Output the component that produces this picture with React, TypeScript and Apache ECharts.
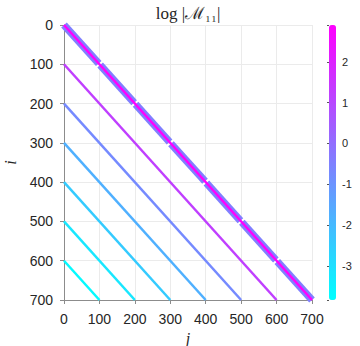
import React, { useEffect, useRef } from "react";
import * as echarts from "echarts";

// Diagonal offsets (i - j) and the value of log|M11| along each diagonal
const diagOffsets = [0, 100, 200, 300, 400, 500, 600];
const diagValues = [2.9, 1.25, -0.75, -1.75, -2.45, -3.2, -3.7];
// Near-diagonal band (blocks of 100) around the main diagonal
const blockStarts = [0, 102, 202, 302, 402, 502, 602];
const blockEnds = [98, 198, 298, 398, 498, 598, 700];
const bandValue = -0.45;
// Axis ticks
const axisMax = 700;
const tickStep = 100;
const cbMin = -3.83;
const cbMax = 2.9;

export default function App() {
  const ref = useRef<HTMLDivElement>(null);
  useEffect(() => {
    if (!ref.current) return;
    const chart = echarts.init(ref.current, undefined, { renderer: "svg" });

    const diagData = diagOffsets.map((k, idx) => [0, k, axisMax - k, axisMax, diagValues[idx]]);
    const bandData = blockStarts.map((s, idx) => [s, s, blockEnds[idx], blockEnds[idx], bandValue]);

    const makeRender = (width: number) => (params: any, api: any) => {
      const p1 = api.coord([api.value(0), api.value(1)]);
      const p2 = api.coord([api.value(2), api.value(3)]);
      return {
        type: "line",
        shape: { x1: p1[0], y1: p1[1], x2: p2[0], y2: p2[1] },
        style: { stroke: api.visual("color"), lineWidth: width, lineCap: "butt" },
      };
    };

    const labelColor = "#262626";
    const axisColor = "#8c8c8c";

    chart.setOption({
      animation: false,
      grid: [
        { left: 64, top: 25, width: 248, height: 275, outerBoundsMode: "none", containLabel: false },
        { left: 329, top: 25, width: 7, height: 275, outerBoundsMode: "none", containLabel: false },
      ],
      xAxis: [
        {
          gridIndex: 0,
          type: "value",
          min: 0,
          max: axisMax,
          interval: tickStep,
          position: "bottom",
          axisLine: { show: true, onZero: false, lineStyle: { color: axisColor, width: 1 } },
          axisTick: { show: true, length: 4, lineStyle: { color: axisColor } },
          axisLabel: { color: labelColor, fontSize: 14, fontFamily: "Liberation Sans, Arial", margin: 12 },
          splitLine: { show: true, lineStyle: { color: "#ebebeb", width: 1 } },
          name: "j",
          nameLocation: "middle",
          nameGap: 24,
          nameTextStyle: { fontFamily: "Liberation Serif, DejaVu Serif", fontStyle: "italic", fontSize: 16, color: labelColor },
        },
        {
          gridIndex: 1,
          type: "value",
          show: false,
          min: 0,
          max: 1,
        },
      ],
      yAxis: [
        {
          gridIndex: 0,
          type: "value",
          min: 0,
          max: axisMax,
          interval: tickStep,
          inverse: true,
          axisLine: { show: true, onZero: false, lineStyle: { color: axisColor, width: 1 } },
          axisTick: { show: true, length: 4, lineStyle: { color: axisColor } },
          axisLabel: { color: labelColor, fontSize: 14, fontFamily: "Liberation Sans, Arial", margin: 11 },
          splitLine: { show: true, lineStyle: { color: "#ebebeb", width: 1 } },
          name: "i",
          nameLocation: "middle",
          nameGap: 46,
          nameRotate: 90,
          nameTextStyle: { fontFamily: "Liberation Serif, DejaVu Serif", fontStyle: "italic", fontSize: 16, color: labelColor },
        },
        {
          gridIndex: 1,
          type: "value",
          position: "right",
          min: cbMin,
          max: cbMax,
          splitNumber: 7,
          axisLine: { show: false },
          axisTick: { show: true, inside: true, length: 2, lineStyle: { color: "#555" } },
          splitLine: { show: false },
          axisLabel: {
            color: labelColor,
            fontSize: 11,
            fontFamily: "Liberation Sans, Arial",
            margin: 6,
            formatter: (v: number) => (Math.abs(v - Math.round(v)) < 1e-6 ? String(Math.round(v)) : ""),
          },
        },
      ],
      visualMap: {
        type: "continuous",
        min: cbMin,
        max: cbMax,
        dimension: 4,
        seriesIndex: [0, 1],
        inRange: { color: ["#00ffff", "#ff00ff"] },
        left: 329,
        top: 25,
        itemWidth: 7,
        itemHeight: 275,
        padding: 0,
        calculable: false,
        realtime: false,
        hoverLink: false,
        borderWidth: 0,
      },
      graphic: [
        {
          type: "text",
          x: 188,
          y: 13,
          style: {
            text: "log |ℳ₁₁|",
            font: "17px 'Liberation Serif', 'DejaVu Serif', serif",
            fill: "#262626",
            textAlign: "center",
            textVerticalAlign: "middle",
          },
        },
      ],
      series: [
        {
          type: "custom",
          xAxisIndex: 0,
          yAxisIndex: 0,
          renderItem: makeRender(7.5),
          encode: { x: [0, 2], y: [1, 3] },
          data: bandData,
          silent: true,
        },
        {
          type: "custom",
          xAxisIndex: 0,
          yAxisIndex: 0,
          renderItem: makeRender(2.5),
          encode: { x: [0, 2], y: [1, 3] },
          data: diagData,
          silent: true,
        },
      ],
    });
    return () => chart.dispose();
  }, []);
  return (
    <div
      ref={ref}
      style={{ position: "fixed", left: 0, top: 0, width: 360, height: 346, background: "#fff" }}
    />
  );
}
